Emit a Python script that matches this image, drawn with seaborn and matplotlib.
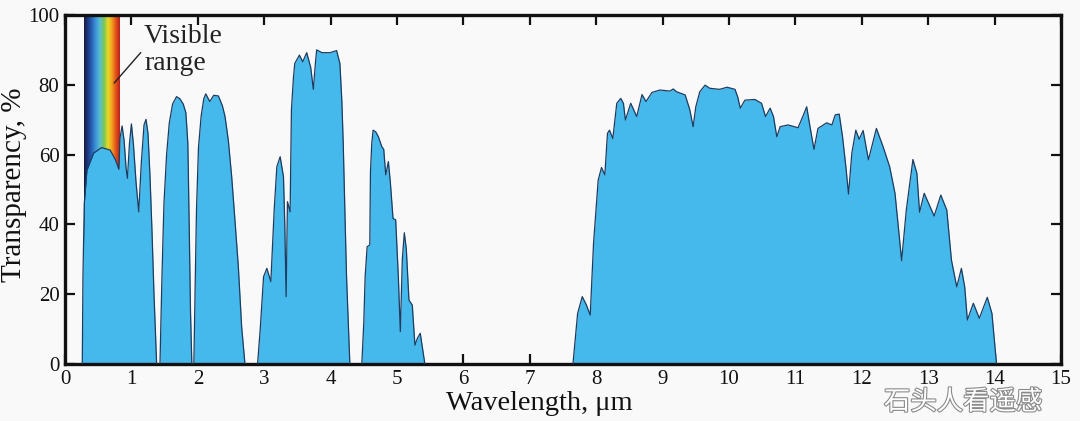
import numpy as np
import matplotlib
matplotlib.use("Agg")
import matplotlib.pyplot as plt
import matplotlib.patheffects as pe
from matplotlib.colors import LinearSegmentedColormap
import seaborn as sns

# transmission bands (wavelength um, transparency %)
band1_x = [0.26, 0.27, 0.29, 0.33, 0.43, 0.55, 0.68, 0.76, 0.81, 0.83, 0.86, 0.89, 0.92, 0.94, 0.97,
           1.00, 1.03, 1.07, 1.11, 1.15, 1.19, 1.22, 1.25, 1.28, 1.31, 1.34, 1.38]
band1_y = [0, 25, 46, 55.5, 60.4, 62, 61.3, 58.5, 55.8, 65, 68.2, 64, 56, 53.2, 63,
           68.8, 63, 52, 43.6, 58, 68.5, 70.1, 66, 53.7, 38, 20, 0]

band2_x = [1.43, 1.46, 1.49, 1.53, 1.57, 1.62, 1.68, 1.73, 1.78, 1.82, 1.85, 1.87, 1.89, 1.91]
band2_y = [0, 25, 46, 60, 69, 74.5, 76.6, 76, 74.5, 72, 63.2, 40, 15, 0]

band3_x = [1.94, 1.96, 1.98, 2.01, 2.05, 2.09, 2.12, 2.18, 2.24, 2.31, 2.37, 2.41, 2.46, 2.51,
           2.56, 2.61, 2.66, 2.71]
band3_y = [0, 22, 44, 62, 71, 76, 77.4, 75.2, 77, 76.8, 74, 70.9, 64, 53.7, 41, 28, 10.7, 0]

band4_x = [2.90, 2.94, 2.99, 3.04, 3.10, 3.15, 3.19, 3.24, 3.29, 3.31, 3.33, 3.35, 3.39, 3.41,
           3.44, 3.46, 3.53, 3.58, 3.64, 3.70, 3.74, 3.77, 3.79, 3.87, 3.99, 4.09, 4.14, 4.17,
           4.19, 4.22, 4.24, 4.29]
band4_y = [0, 10, 25, 27.4, 23.6, 44.1, 56.5, 59.4, 53.7, 40, 19.3, 46.5, 43.6, 72.8,
           82, 86.1, 88.5, 86.6, 89.2, 85, 78.7, 86, 90, 89.2, 89.2, 89.8, 86.1, 75,
           63.2, 40, 25, 0]

band5_x = [4.47, 4.50, 4.52, 4.55, 4.59, 4.60, 4.62, 4.64, 4.68, 4.72, 4.77, 4.80, 4.83, 4.87,
           4.90, 4.94, 4.98, 5.02, 5.05, 5.08, 5.11, 5.14, 5.18, 5.23, 5.27, 5.31, 5.35, 5.38, 5.42]
band5_y = [0, 12, 25, 33.6, 34.1, 55, 63.2, 67, 66.5, 65.1, 62.3, 61.5, 54.2, 58,
           52, 41.7, 41.3, 25, 9.3, 30, 37.6, 33, 18.3, 16.9, 5.4, 7.5, 8.8, 5, 0]

band6_x = [7.65, 7.72, 7.79, 7.85, 7.91, 7.96, 8.03, 8.08, 8.13, 8.17, 8.20, 8.25, 8.31, 8.37,
           8.41, 8.44, 8.52, 8.61, 8.69, 8.75, 8.84, 8.96, 9.11, 9.16, 9.21, 9.34, 9.41, 9.46,
           9.50, 9.56, 9.64, 9.71, 9.86, 9.97, 10.09, 10.13, 10.17, 10.24, 10.39, 10.49, 10.55,
           10.62, 10.67, 10.72, 10.77, 10.89, 11.04, 11.12, 11.17, 11.22, 11.28, 11.34, 11.47,
           11.55, 11.60, 11.66, 11.71, 11.76, 11.80, 11.85, 11.91, 11.96, 12.02, 12.10, 12.22,
           12.32, 12.42, 12.50, 12.55, 12.60, 12.67, 12.77, 12.83, 12.87, 12.94, 13.09, 13.19,
           13.28, 13.35, 13.43, 13.50, 13.55, 13.59, 13.68, 13.77, 13.89, 13.96, 14.01, 14.03]
band6_y = [0, 14.5, 19.3, 17, 14, 34.6, 52.7, 56.3, 54.2, 66.1, 67, 64.6, 74.7, 76.1,
           74.7, 69.9, 74.7, 70.9, 77.2, 75.2, 77.8, 78.5, 78.2, 78.8, 78, 77.1, 72.8, 68,
           73.7, 78, 79.9, 79, 78.7, 79.3, 78.7, 76.6, 73.3, 75.6, 75.8, 74.7, 70.9,
           73.3, 70.9, 65.1, 68, 68.5, 67.7, 71.3, 73.7, 68, 61.5, 67.5, 69.1,
           68.5, 71.4, 71.6, 65.1, 56.5, 48.7, 60.4, 67, 64.4, 66.9, 58.5, 67.5,
           62.3, 56.5, 48.9, 39.3, 29.6, 44.1, 58.6, 54.6, 43.5, 48.9, 42.4, 48.4,
           44.1, 29.8, 22.1, 27.4, 22.1, 12.6, 17.4, 13.1, 19.1, 14.5, 4, 0]

bands = [(band1_x, band1_y), (band2_x, band2_y), (band3_x, band3_y),
         (band4_x, band4_y), (band5_x, band5_y), (band6_x, band6_y)]

visible_range = (0.28, 0.82)   # um
x_ticks = list(range(0, 16))
y_ticks = [0, 20, 40, 60, 80, 100]

sns.set_theme(style="ticks")
plt.rcParams["font.family"] = ["Liberation Serif", "DejaVu Serif"]

bg = "#f9f9f9"
fig = plt.figure(figsize=(10.8, 4.21), dpi=100, facecolor=bg)
ax = fig.add_axes([0.0602, 0.1354, 0.9222, 0.8290])
ax.set_facecolor(bg)

# rainbow strip for the visible range, hidden below the curve by the fill
spectrum = LinearSegmentedColormap.from_list(
    "spectrum", ["#15183a", "#1d3b86", "#2a66b8", "#3d98d8", "#5cbfd0",
                 "#78c45a", "#e6dc25", "#f2a020", "#e2501a", "#b8201a"])
grad = np.linspace(0, 1, 256).reshape(1, -1)
ax.imshow(grad, cmap=spectrum, aspect="auto",
          extent=[visible_range[0], visible_range[1], 0, 100], zorder=1)

fill_col = "#45b9ec"
edge_col = "#1d3c60"
for bx, by in bands:
    ax.fill_between(bx, by, 0, color=fill_col, lw=0, zorder=2)
    sns.lineplot(x=bx, y=by, sort=False, estimator=None, color=edge_col, lw=0.9, ax=ax, zorder=3)

ax.annotate("Visible\nrange", xy=(0.74, 80.5), xytext=(1.19, 97.5), fontsize=20,
            ha="left", va="top", linespacing=1.12, color="#222222",
            arrowprops=dict(arrowstyle="-", color="#222222", lw=1, shrinkA=0, shrinkB=0,
                            relpos=(0.0, 0.52)))

ax.set_xlim(0, 15)
ax.set_ylim(0, 100)
ax.set_xticks(x_ticks)
ax.set_yticks(y_ticks)
ax.tick_params(direction="in", top=True, right=True, length=7, width=1.6,
               labelsize=15, colors="#111111", pad=4)
for s in ax.spines.values():
    s.set_linewidth(2.4)
    s.set_color("#111111")

ax.set_xlabel("Wavelength, \u03bcm", fontsize=20.5, color="#111111", labelpad=2, x=0.476)
ax.set_ylabel("Transparency, %", fontsize=21, color="#111111")
ax.yaxis.set_label_coords(-0.038, 0.513)

# watermark, dropped just below the tick labels so it does not cover them
fig.text(0.965, 0.045, "石头人看遥感", fontsize=19, color="white", ha="right", va="center",
         family=["Noto Sans CJK SC", "DejaVu Sans"],
         path_effects=[pe.withStroke(linewidth=1.6, foreground="#8a8a8a")])

fig.savefig("out.png", dpi=100, facecolor=bg)
